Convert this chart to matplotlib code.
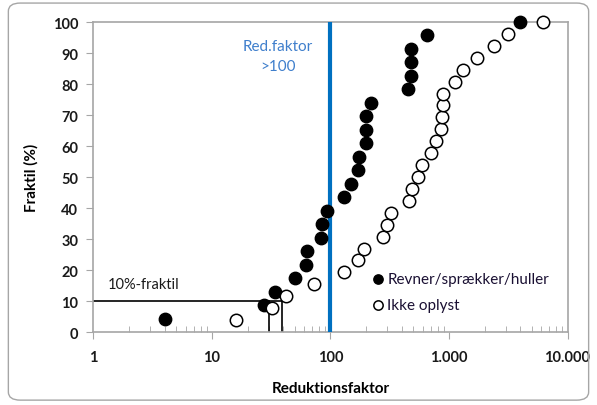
import matplotlib.pyplot as plt
from matplotlib.patches import FancyBboxPatch
from matplotlib.ticker import FixedLocator, LogLocator, NullFormatter

plt.rcParams['font.family'] = ['Lato', 'DejaVu Sans']

# reduction factor per sample, sorted
revner_x = [4, 27.5, 34, 50, 62, 63.5, 83, 85, 94, 130, 150, 171,
            174, 201, 201, 201, 221, 451, 475, 475, 475, 657, 3950]
ikke_x = [15.8, 32.4, 42.5, 72.7, 130, 171, 191, 278, 300, 322, 460, 491, 548,
          593, 711, 783, 863, 873, 890, 890, 1117, 1313, 1723, 2397, 3143, 6200]
revner_y = [100 * (i + 1) / len(revner_x) for i in range(len(revner_x))]
ikke_y = [100 * (i + 1) / len(ikke_x) for i in range(len(ikke_x))]

x_ticks = [1, 10, 100, 1000, 10000]
x_labels = ['1', '10', '100', '1.000', '10.000']
y_ticks = list(range(0, 101, 10))

fraktil_y = 10
fraktil_x = [30.4, 38.6]
red_limit = 100

fig = plt.figure(figsize=(5.97, 4.06), dpi=100)
fig.patches.append(FancyBboxPatch((0.014, 0.012), 0.972, 0.978,
                                  boxstyle='round,pad=0,rounding_size=0.02',
                                  transform=fig.transFigure, fill=False,
                                  edgecolor='#a6a6a6', linewidth=1.0))
ax = fig.add_axes([0.1566, 0.1798, 0.794, 0.7635])

# 10%-fraktil lines
ax.plot([1, fraktil_x[1]], [fraktil_y, fraktil_y], color='black', lw=1.2, zorder=2)
for xv in fraktil_x:
    ax.plot([xv, xv], [0, fraktil_y], color='black', lw=1.2, zorder=2)
ax.text(1.33, 15.5, '10%-fraktil', fontsize=10.5, color='#1a1a1a', va='center')

ax.axvline(red_limit, color='#0070c0', lw=3, zorder=3)
ax.text(36, 89, 'Red.faktor\n>100', fontsize=11, color='#3f7fcc',
        ha='center', va='center', linespacing=1.6)

ax.scatter(revner_x, revner_y, s=80, color='black', zorder=4,
           label='Revner/sprækker/huller', clip_on=False)
ax.scatter(ikke_x, ikke_y, s=80, facecolor='white', edgecolor='black',
           linewidths=1.1, zorder=4, label='Ikke oplyst', clip_on=False)

ax.set_xscale('log')
ax.set_xlim(1, 10000)
ax.set_ylim(0, 100)
ax.xaxis.set_major_locator(FixedLocator(x_ticks))
ax.set_xticklabels(x_labels)
ax.xaxis.set_minor_locator(LogLocator(base=10, subs=range(2, 10)))
ax.xaxis.set_minor_formatter(NullFormatter())
ax.set_yticks(y_ticks)

for s in ax.spines.values():
    s.set_color('#a6a6a6')
    s.set_linewidth(1.2)
ax.tick_params(axis='x', which='major', direction='out', length=5, color='#a6a6a6',
               labelsize=10.5, pad=8)
ax.tick_params(axis='x', which='minor', direction='in', length=4, color='#a6a6a6')
ax.tick_params(axis='y', direction='out', length=5, color='#a6a6a6', labelsize=10.5, pad=6)
for lab in ax.get_xticklabels() + ax.get_yticklabels():
    lab.set_fontweight('bold')
    lab.set_color('#1a1a1a')

ax.set_xlabel('Reduktionsfaktor', fontsize=11, fontweight='bold', labelpad=12)
ax.set_ylabel('Fraktil (%)', fontsize=11, fontweight='bold', labelpad=10)

ax.legend(loc='lower left', bbox_to_anchor=(0.555, 0.02), frameon=False,
          fontsize=11, handletextpad=0.1, handlelength=1.0, labelspacing=0.8,
          markerscale=0.75, labelcolor='#1a1033')

fig.savefig('out.png', dpi=100)
